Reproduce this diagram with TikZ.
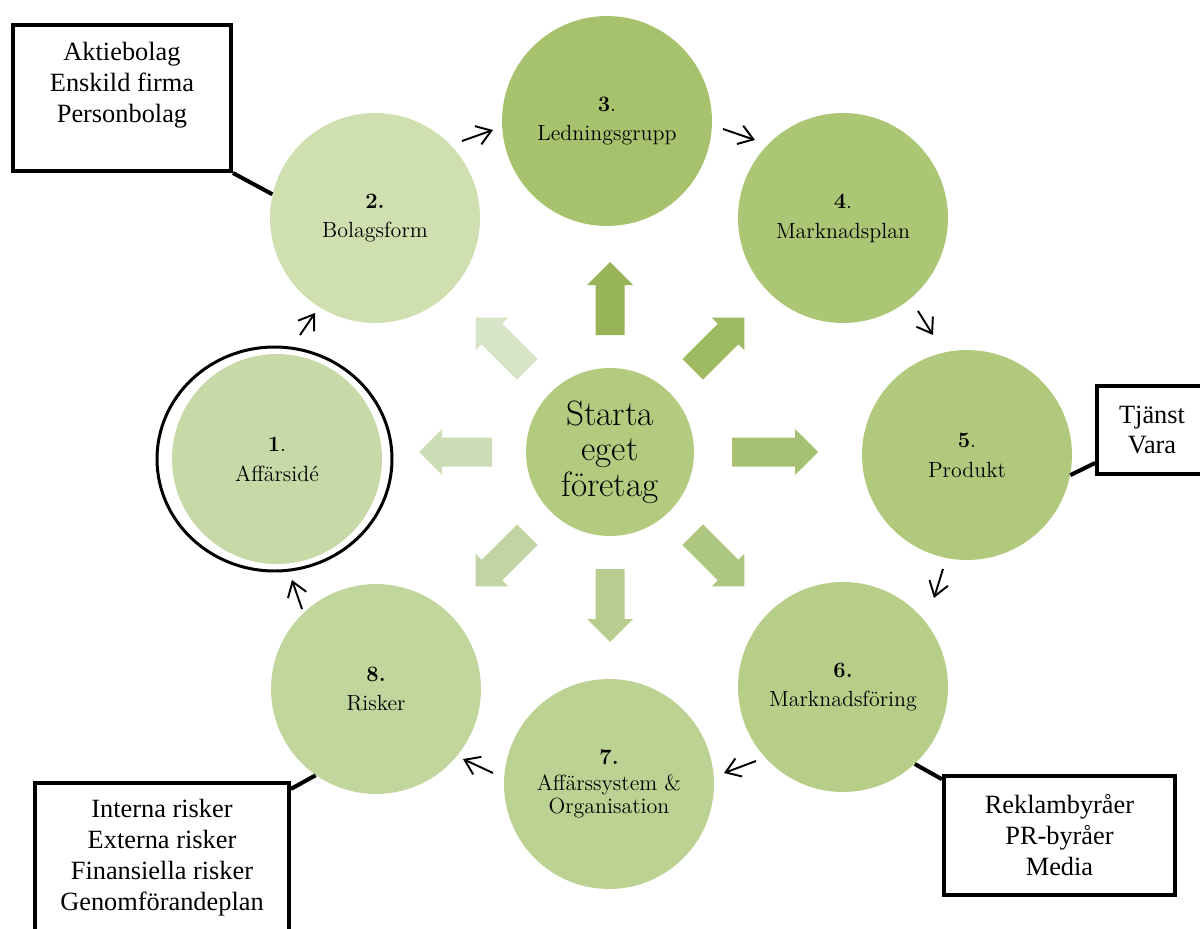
\documentclass[tikz,border=0pt]{standalone}
\usepackage{fontspec}
\usepackage{tikz}
\usetikzlibrary{arrows.meta, calc}
\newfontfamily\boxfont{Liberation Serif}

\definecolor{cirA}{HTML}{C6D9A7}
\definecolor{cirB}{HTML}{CFDFB0}
\definecolor{cirC}{HTML}{A7C26C}
\definecolor{cirD}{HTML}{ABC674}
\definecolor{cirE}{HTML}{B0C97D}
\definecolor{cirF}{HTML}{B7CE89}
\definecolor{cirG}{HTML}{BCD293}
\definecolor{cirH}{HTML}{C1D69C}
\definecolor{cirM}{HTML}{B2CB7F}
\definecolor{pilN}{HTML}{97B558}
\definecolor{pilNE}{HTML}{9EBA62}
\definecolor{pilE}{HTML}{A5C071}
\definecolor{pilSE}{HTML}{ADC680}
\definecolor{pilS}{HTML}{B7CD90}
\definecolor{pilSW}{HTML}{C2D4A3}
\definecolor{pilW}{HTML}{CDDDB6}
\definecolor{pilNW}{HTML}{D7E4C7}

\begin{document}
\begin{tikzpicture}[x=0.02cm, y=-0.02cm,
    steg/.style={circle, minimum size=4.2cm, inner sep=0pt, align=center,
      font=\fontsize{12.5}{17}\selectfont},
    kasten/.style={draw, line width=2.3pt, fill=white, inner sep=0pt, align=center,
      font=\boxfont\fontsize{15}{17.6}\selectfont},
    verb/.style={line width=2.3pt},
    pil/.style={line width=1.1pt, -{Straight Barb[length=8pt, width=11pt]}}]

    \clip (0,0) rectangle (1200,929);
    \fill[white] (0,0) rectangle (1200,929);

    % mitten
    \node[steg, fill=cirM, minimum size=3.36cm, font=\fontsize{20}{20.3}\selectfont]
        (mitt) at (610,452) {Starta\\eget\\företag};

    % stegen runt om
    \node[steg, fill=cirA] (c1) at (277,459) {\textbf{1}.\\Affärsidé};
    \node[steg, fill=cirB] (c2) at (375,218) {\textbf{2.}\\Bolagsform};
    \node[steg, fill=cirC] (c3) at (607,121) {\textbf{3}.\\Ledningsgrupp};
    \node[steg, fill=cirD] (c4) at (843,218) {\textbf{4}.\\Marknadsplan};
    \node[steg, fill=cirE] (c5) at (967,455) {\textbf{5}.\\Produkt};
    \node[steg, fill=cirF] (c6) at (843,687) {\textbf{6.}\\Marknadsföring};
    \node[steg, fill=cirG] (c7) at (609,784) {\textbf{7.}\\[-2pt]Affärssystem \&\\[-4pt]Organisation};
    \node[steg, fill=cirH] (c8) at (376,689) {\textbf{8.}\\Risker};

    % ring runt steg 1
    \draw[line width=1.7pt] ($(c1.center)+(-2.5,0)$) ellipse [x radius=117.5, y radius=112];

    % blockpilar ut fran mitten
    \foreach \ang/\col/\von/\bis in {90/pilN/117/190, 45/pilNE/117/190, 0/pilE/122/208,
        -45/pilSE/117/190, -90/pilS/117/190, -135/pilSW/117/190, 180/pilW/118/191, 135/pilNW/117/190}
      \fill[\col, shift={(mitt.center)}, rotate=\ang]
        (\von,-14.5) -- ({\bis-23},-14.5) -- ({\bis-23},-23) -- (\bis,0)
        -- ({\bis-23},23) -- ({\bis-23},14.5) -- (\von,14.5) -- cycle;

    % sma pilar mellan stegen
    \foreach \n/\xa/\ya/\xb/\yb in {12/300/335/315/313, 23/462/141/493/130, 34/723/129/755/140,
        45/918/311/933/335, 56/943/569/934/598, 67/756/761/724/773, 78/493/773/463/759, 81/302/609/292/580}
      {
        \coordinate (s\n) at (\xa,\ya);
        \coordinate (e\n) at (\xb,\yb);
        \draw[pil] (s\n) -- (e\n);
      }

    % rutor
    \node[kasten, minimum width=4.36cm, minimum height=2.92cm] (bolag) at (122,98)
        {Aktiebolag\\Enskild firma\\Personbolag\\ \mbox{}};
    \node[kasten, minimum width=2.2cm, minimum height=1.76cm] (tjanst) at (1152,430)
        {Tjänst\\Vara};
    \node[kasten, minimum width=5.08cm, minimum height=2.98cm] (risk) at (162,857.5)
        {Interna risker\\Externa risker\\Finansiella risker\\Genomförandeplan};
    \node[kasten, minimum width=4.62cm, minimum height=2.38cm] (media) at (1059.5,835.5)
        {Reklambyråer\\PR-byråer\\Media};

    \draw[verb] (bolag.south east) -- (c2.167);
    \draw[verb] ([yshift=7.4pt]tjanst.south west) -- (c5.-11);
    \draw[verb] ([yshift=-4.5pt]risk.north east) -- (c8.-125);
    \draw[verb] ([yshift=-3pt]media.north west) -- (c6.-47);
\end{tikzpicture}
\end{document}
